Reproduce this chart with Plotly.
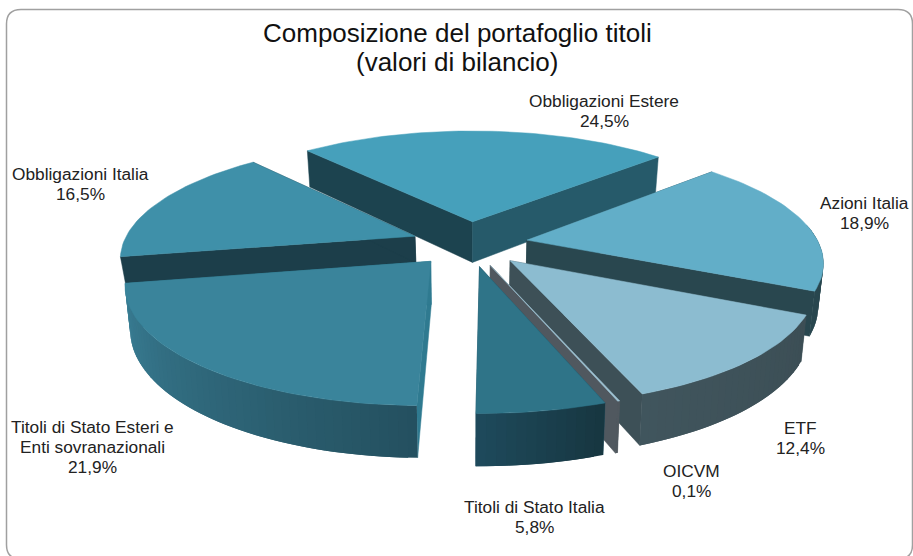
import math
import plotly.graph_objects as go

# ---- data ----
categories = ["Obbligazioni Estere", "Azioni Italia", "ETF", "OICVM", "Titoli di Stato Italia",
              "Titoli di Stato Esteri e<br>Enti sovranazionali", "Obbligazioni Italia"]
values = [24.5, 18.9, 12.4, 0.1, 5.8, 21.9, 16.5]
value_labels = ["24,5%", "18,9%", "12,4%", "0,1%", "5,8%", "21,9%", "16,5%"]

# ---- styles ----
top_colors = ["#46a0bb", "#62aec8", "#8cbcd0", "#9fc4d4", "#2f7488", "#3a849b", "#3f90a9"]
start_wall = ["#1c434f", "#29474f", "#3d5057", "#50585f", "#1e4a5c", "#2f7a90", "#1c3e4a"]
end_wall = ["#265a6a", "#29474f", "#3d5057", "#50585f", "#1e4a5c", "#2f7a90", "#1c3e4a"]
rim_from = ["#265a6a", "#2a4a52", "#3c4e55", "#50585f", "#173640", "#24505f", "#1c3e4a"]
rim_to = ["#265a6a", "#29474f", "#40555d", "#50585f", "#1e4a5c", "#3a7f96", "#1c3e4a"]
rim_hidden = [False, False, False, False, False, False, True]
wall_depth = [42.0, 42.0, 42.0, 42.0, 42.0, 42.0, 27.0]
draw_order = [0, 1, 6, 5, 2, 3, 4]
label_xy = [(604, 101), (864, 203), (800, 428), (691, 471), (534, 507), (92.5, 427), (80, 174)]
LINE = 19.8

START = -41.0      # degrees clockwise from the back
EXPLODE = 0.2
CX, CY, AX, AY, K = 469.5, 243.6, 292.0, 113.0, 0.17
CONVERGE = 0.985


def project(X, Y, depth=None):
    w = 1 - K * Y
    sx, sy = AX * X / w, AY * Y / w
    if depth is not None:
        return CX + sx * CONVERGE, CY + sy + depth / w
    return CX + sx, CY + sy


def mix(a, b, t):
    pa = [int(a[i:i + 2], 16) for i in (1, 3, 5)]
    pb = [int(b[i:i + 2], 16) for i in (1, 3, 5)]
    return "rgb(%d,%d,%d)" % tuple(round(p + (q - p) * t) for p, q in zip(pa, pb))


fig = go.Figure()


def poly(pts, color, edge=0.5):
    xs = [p[0] for p in pts] + [pts[0][0]]
    ys = [p[1] for p in pts] + [pts[0][1]]
    fig.add_trace(go.Scatter(x=xs, y=ys, mode="lines", fill="toself", fillcolor=color,
                             line=dict(color=color, width=edge), hoverinfo="skip", showlegend=False))


total = sum(values)
bounds = []
a = START
for v in values:
    bounds.append((a, a + v / total * 360))
    a += v / total * 360

for i in draw_order:
    a0, a1 = bounds[i]
    d = wall_depth[i]
    mid = math.radians((a0 + a1) / 2)
    ox, oy = EXPLODE * math.sin(mid), -EXPLODE * math.cos(mid)
    n = max(2, int((a1 - a0) / 1.5))
    arc = [math.radians(a0 + (a1 - a0) * j / n) for j in range(n + 1)]
    rim = [(ox + math.sin(t), oy - math.cos(t)) for t in arc]
    apex = (ox, oy)
    # cut faces
    poly([project(*apex), project(*rim[0]), project(*rim[0], d), project(*apex, d)], start_wall[i])
    poly([project(*apex), project(*rim[-1]), project(*rim[-1], d), project(*apex, d)], end_wall[i])
    # outer rim: only the part that faces the viewer, in overlapping strips (no seams)
    if not rim_hidden[i]:
        for j in range(n):
            if -math.cos(arc[j]) < -0.12 and -math.cos(arc[min(j + 1, n)]) < -0.12:
                continue
            e = min(j + 2, n)
            strip = rim[j:e + 1]
            poly([project(*p) for p in strip] + [project(*p, d) for p in reversed(strip)],
                 mix(rim_from[i], rim_to[i], (j + 0.5) / n), edge=0)
    # top face
    poly([project(*apex)] + [project(*p) for p in rim], top_colors[i])

annotations = []
for txt, ty in (("Composizione del portafoglio titoli", 33), ("(valori di bilancio)", 62)):
    annotations.append(dict(x=457, y=ty, xref="x", yref="y", showarrow=False, text=txt,
                            font=dict(family="Liberation Sans", size=26, color="#111111")))
for name, val, (lx, ly) in zip(categories, value_labels, label_xy):
    for k, line in enumerate(name.split("<br>") + [val]):
        annotations.append(dict(x=lx, y=ly + k * LINE, xref="x", yref="y", showarrow=False, text=line,
                                font=dict(family="Liberation Sans", size=17.3, color="#222222")))

fig.update_layout(
    width=913, height=556, margin=dict(l=0, r=0, t=0, b=0),
    paper_bgcolor="white", plot_bgcolor="white", showlegend=False,
    xaxis=dict(range=[0, 913], visible=False, fixedrange=True),
    yaxis=dict(range=[556, 0], visible=False, fixedrange=True),
    annotations=annotations,
    shapes=[dict(type="path", layer="below", xref="x", yref="y",
                 path="M 6.5 24 Q 6.5 9.5 21 9.5 L 898 9.5 Q 912.5 9.5 912.5 24 L 912.5 545 Q 912.5 559 898 559 L 21 559 Q 6.5 559 6.5 545 Z",
                 line=dict(color="#a0a0a0", width=1.5), fillcolor="white")],
)
fig.write_html("out.html", post_script="document.body.style.margin='0px';",
               config={"displayModeBar": False})
